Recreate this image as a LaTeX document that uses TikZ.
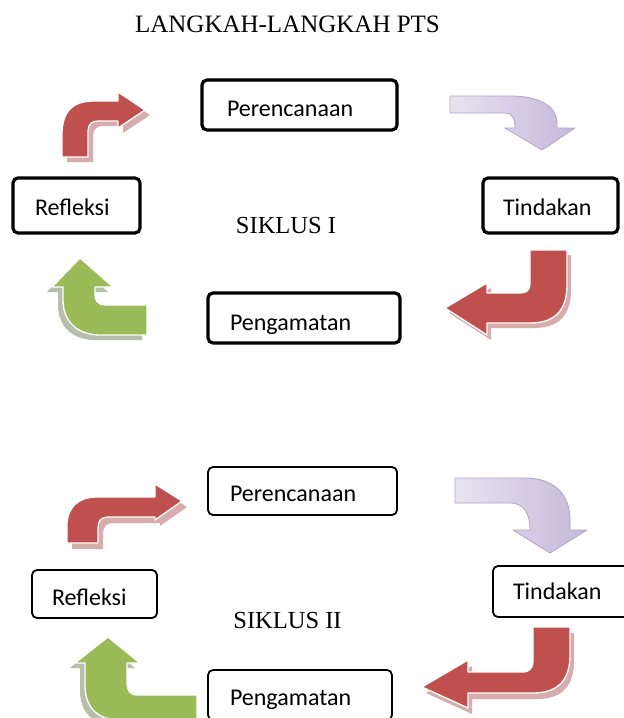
\documentclass[tikz,border=0pt]{standalone}
\usepackage{fontspec}
\setmainfont{Liberation Serif}
\newfontfamily\boxfont{Carlito}
\definecolor{arrred}{HTML}{C0504D}
\definecolor{arrredsh}{HTML}{D6ADAC}
\definecolor{arrgreen}{HTML}{9BBB59}
\definecolor{arrgreensh}{HTML}{B7BEAB}
\definecolor{purpL}{HTML}{E8E3F1}
\definecolor{purpR}{HTML}{C4B8D8}
\definecolor{purpE}{HTML}{B2A4CA}
\tikzset{
  stepbox/.style={draw=black, fill=white, rounded corners=5pt, align=left,
    font=\boxfont\fontsize{24}{28}\selectfont, text depth=0pt, inner ysep=0pt},
  thickbox/.style={stepbox, line width=3.2pt},
  thinbox/.style={stepbox, line width=1.8pt},
  serifttl/.style={font=\fontsize{25}{30}\selectfont, inner sep=0pt, anchor=base},
  redarrow/.style={fill=arrred, draw=white, line width=1.3pt, line join=round},
  redshadow/.style={fill=arrredsh},
  greenarrow/.style={fill=arrgreen, draw=white, line width=1.3pt, line join=round},
  greenshadow/.style={fill=arrgreensh},
  purparrow/.style={left color=purpL, right color=purpR, draw=purpE, line width=0.8pt, line join=round},
}
\begin{document}
\begin{tikzpicture}[x=1pt,y=-1pt]
\useasboundingbox (0,0) rectangle (624,718);
\clip (0,0) rectangle (624,718);
\fill[white] (0,0) rectangle (624,718);

% ---------------- SIKLUS I arrows ----------------
\fill[redshadow, shift={(5,5)}] (62,157) -- (62,135) .. controls (62,112) and (72,101) .. (94,101) -- (118,101) -- (118,92) -- (145,110) -- (118,128) -- (118,121) -- (98,121) .. controls (92,121) and (88,124) .. (88,131) -- (88,157) -- cycle;
\filldraw[redarrow] (62,157) -- (62,135) .. controls (62,112) and (72,101) .. (94,101) -- (118,101) -- (118,92) -- (145,110) -- (118,128) -- (118,121) -- (98,121) .. controls (92,121) and (88,124) .. (88,131) -- (88,157) -- cycle;
\shadedraw[purparrow] (450,96) -- (510,96) .. controls (540,96) and (557,106) .. (557,124) -- (557,128) -- (575,128) -- (542,150) -- (505,128) -- (515,128) .. controls (515,118) and (512,113) .. (505,113) -- (450,113) -- cycle;
\fill[redshadow, shift={(4,5)}] (530,250) -- (567,250) -- (567,285) .. controls (567,310) and (555,323) .. (530,323) -- (487,323) -- (487,335) -- (445,308) -- (487,283) -- (487,293) -- (520,293) .. controls (527,293) and (530,290) .. (530,283) -- cycle;
\filldraw[redarrow] (530,250) -- (567,250) -- (567,285) .. controls (567,310) and (555,323) .. (530,323) -- (487,323) -- (487,335) -- (445,308) -- (487,283) -- (487,293) -- (520,293) .. controls (527,293) and (530,290) .. (530,283) -- cycle;
\fill[greenshadow, shift={(-5,5)}] (147,305) -- (105,305) .. controls (98,305) and (95,300) .. (95,295) -- (95,287) -- (113,287) -- (80,258) -- (52,287) -- (63,287) -- (63,300) .. controls (63,322) and (78,335) .. (100,335) -- (147,335) -- cycle;
\filldraw[greenarrow] (147,305) -- (105,305) .. controls (98,305) and (95,300) .. (95,295) -- (95,287) -- (113,287) -- (80,258) -- (52,287) -- (63,287) -- (63,300) .. controls (63,322) and (78,335) .. (100,335) -- (147,335) -- cycle;

% ---------------- SIKLUS II arrows ----------------
\fill[redshadow, shift={(5,6)}] (67,543) -- (67,525) .. controls (67,508) and (78,497) .. (97,497) -- (155,497) -- (155,484) -- (182,501) -- (155,520) -- (155,517) -- (108,517) .. controls (101,517) and (98,521) .. (98,528) -- (98,543) -- cycle;
\filldraw[redarrow] (67,543) -- (67,525) .. controls (67,508) and (78,497) .. (97,497) -- (155,497) -- (155,484) -- (182,501) -- (155,520) -- (155,517) -- (108,517) .. controls (101,517) and (98,521) .. (98,528) -- (98,543) -- cycle;
\shadedraw[purparrow] (455,478) -- (525,478) .. controls (555,478) and (570,495) .. (570,520) -- (570,530) -- (587,530) -- (550,553) -- (513,530) -- (530,530) .. controls (530,512) and (523,503) .. (510,503) -- (455,503) -- cycle;
\fill[redshadow, shift={(4,6)}] (533,627) -- (570,627) -- (570,655) .. controls (570,680) and (558,693) .. (533,693) -- (468,693) -- (468,708) -- (422,687) -- (468,660) -- (468,672) -- (522,672) .. controls (530,672) and (533,668) .. (533,660) -- cycle;
\filldraw[redarrow] (533,627) -- (570,627) -- (570,655) .. controls (570,680) and (558,693) .. (533,693) -- (468,693) -- (468,708) -- (422,687) -- (468,660) -- (468,672) -- (522,672) .. controls (530,672) and (533,668) .. (533,660) -- cycle;
\fill[greenshadow, shift={(-5,5)}] (197,695) -- (137,695) .. controls (130,695) and (127,690) .. (127,683) -- (127,663) -- (140,663) -- (108,637) -- (75,663) -- (85,663) -- (85,685) .. controls (85,708) and (98,720) .. (120,720) -- (197,720) -- cycle;
\filldraw[greenarrow] (197,695) -- (137,695) .. controls (130,695) and (127,690) .. (127,683) -- (127,663) -- (140,663) -- (108,637) -- (75,663) -- (85,663) -- (85,685) .. controls (85,708) and (98,720) .. (120,720) -- (197,720) -- cycle;

% ---------------- texts ----------------
\node[serifttl] (title) at (287.5,32) {LANGKAH-LANGKAH PTS};
\node[serifttl, font=\fontsize{24.5}{29}\selectfont] (cyc1) at (286,233) {SIKLUS I};
\node[serifttl, font=\fontsize{24.5}{29}\selectfont] (cyc2) at (287.5,628) {SIKLUS II};

% ---------------- boxes, SIKLUS I ----------------
\node[thickbox, minimum width=195pt, minimum height=50pt, text width=145pt, inner xsep=25pt, text height=22pt] (plan1) at (299.5,105) {Perencanaan};
\node[thickbox, minimum width=135pt, minimum height=55pt, text width=95pt, inner xsep=20pt, text height=19pt] (act1) at (550.5,205.5) {Tindakan};
\node[thickbox, minimum width=127pt, minimum height=55pt, text width=83pt, inner xsep=22pt, text height=19pt] (refl1) at (76.5,205.5) {Refleksi};
\node[thickbox, minimum width=192pt, minimum height=50pt, text width=148pt, inner xsep=22pt, text height=24pt] (obs1) at (304,318) {Pengamatan};

% ---------------- boxes, SIKLUS II ----------------
\node[thinbox, minimum width=189pt, minimum height=48pt, text width=145pt, inner xsep=22pt, text height=20pt] (plan2) at (302.5,491) {Perencanaan};
\node[thinbox, minimum width=137pt, minimum height=51pt, text width=97pt, inner xsep=20pt, text height=15pt] (act2) at (561.5,591.5) {Tindakan};
\node[thinbox, minimum width=125pt, minimum height=48pt, text width=85pt, inner xsep=20pt, text height=22pt] (refl2) at (94.5,594) {Refleksi};
\node[thinbox, minimum width=184pt, minimum height=50pt, text width=140pt, inner xsep=22pt, text height=20pt] (obs2) at (300,695) {Pengamatan};
\end{tikzpicture}
\end{document}
